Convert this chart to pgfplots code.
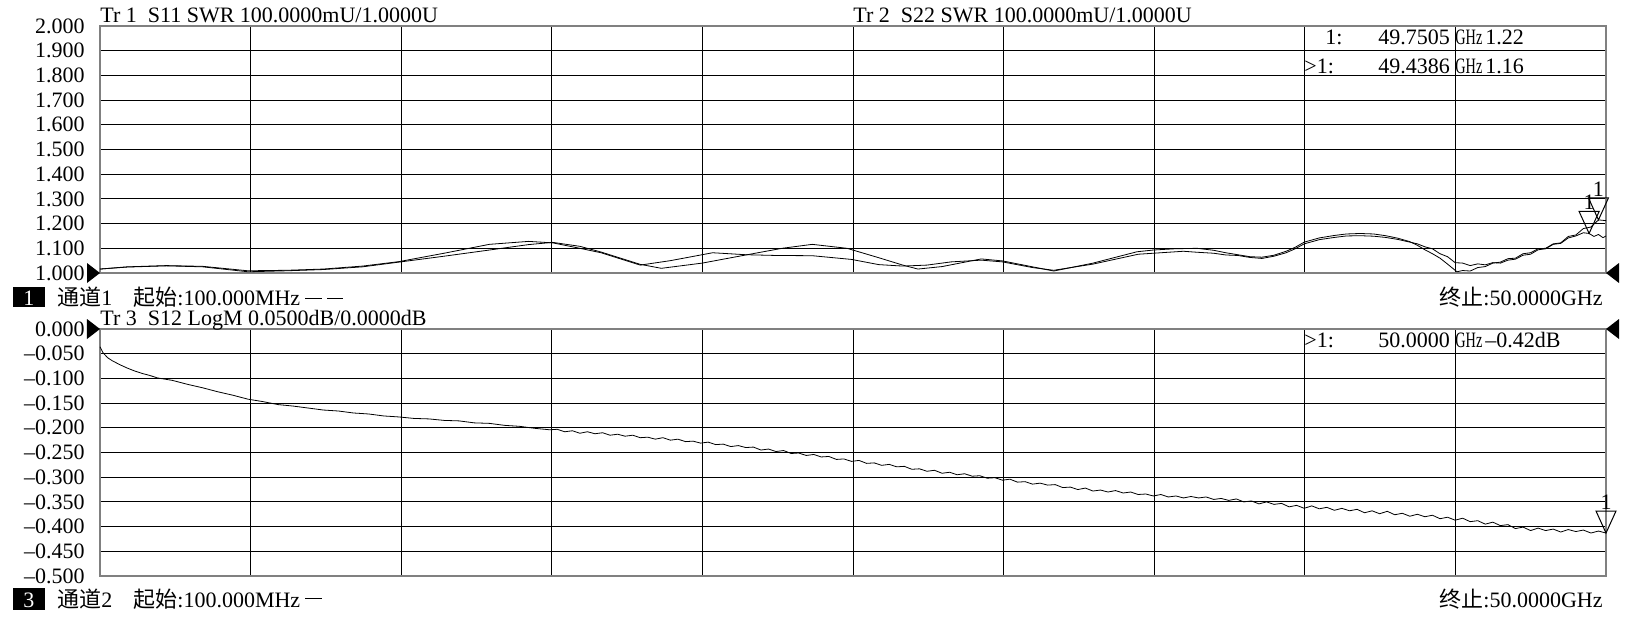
\documentclass[border=0pt]{standalone}
\usepackage{pgfplots}
\pgfplotsset{compat=1.18}
\usepackage{graphicx}
\usepackage{fontspec}
\setmainfont{Liberation Serif}
\newfontfamily\cjk{Noto Sans CJK SC}

% open marker triangle, tip at the data point
\pgfdeclareplotmark{mkdown}{%
  \pgfpathmoveto{\pgfqpoint{0pt}{0pt}}%
  \pgfpathlineto{\pgfqpoint{-5pt}{11pt}}%
  \pgfpathlineto{\pgfqpoint{5pt}{11pt}}%
  \pgfpathclose\pgfusepathqstroke}
% reference level arrows
\pgfdeclareplotmark{refR}{%
  \pgfpathmoveto{\pgfqpoint{0pt}{0pt}}%
  \pgfpathlineto{\pgfqpoint{-6.5pt}{5pt}}%
  \pgfpathlineto{\pgfqpoint{-6.5pt}{-5pt}}%
  \pgfpathclose\pgfusepathqfill}
\pgfdeclareplotmark{refL}{%
  \pgfpathmoveto{\pgfqpoint{0pt}{0pt}}%
  \pgfpathlineto{\pgfqpoint{6.5pt}{5pt}}%
  \pgfpathlineto{\pgfqpoint{6.5pt}{-5pt}}%
  \pgfpathclose\pgfusepathqfill}

\pgfplotsset{vna/.style={
  anchor=south west, scale only axis, width=753pt, height=123.5pt,
  xmin=0.1, xmax=50,
  xtick={0.1,5.09,10.08,15.07,20.06,25.05,30.04,35.03,40.02,45.01,50},
  xticklabels={},
  grid=major, major grid style={black, line width=0.5pt},
  axis line style={gray, line width=1pt},
  major tick length=0pt,
  yticklabel style={font=\fontsize{11}{13}\selectfont, anchor=east, inner sep=0pt, xshift=-7.5pt},
  clip=false,
  cycle list={{black, no markers, line width=0.55pt}},
}}
\tikzset{txt/.style={font=\fontsize{11}{13}\selectfont, inner sep=0pt, anchor=base west}}
\newcommand{\ghz}{\scalebox{0.65}[1]{GHz}}

\begin{document}
\begin{tikzpicture}
\path[use as bounding box] (0pt,0pt) rectangle (814.5pt,311.5pt);

% ---------------- channel 1: S11 / S22 SWR
\begin{axis}[vna, at={(50pt,175pt)}, ymin=1, ymax=2,
  ytick={1.0,1.1,1.2,1.3,1.4,1.5,1.6,1.7,1.8,1.9,2.0},
  yticklabels={1.000,1.100,1.200,1.300,1.400,1.500,1.600,1.700,1.800,1.900,2.000}]
\addplot coordinates {
(0.1,1.016)(1.0,1.025)(2.3,1.030)(3.5,1.027)(5.0,1.009)(6.3,1.011)(7.5,1.016)
(8.8,1.028)(10.0,1.046)(11.5,1.080)(13.0,1.116)(14.3,1.128)(15.1,1.122)(16.0,1.100)
(16.7,1.082)(18.0,1.032)(19.0,1.050)(20.4,1.082)(21.5,1.074)(22.5,1.071)(23.7,1.070)
(25.0,1.055)(25.9,1.034)(26.7,1.028)(27.5,1.032)(28.3,1.045)(29.3,1.052)(30.0,1.045)
(31.0,1.022)(31.7,1.011)(33.0,1.036)(34.5,1.076)(35.5,1.084)(36.0,1.088)(36.45,1.084)
(37.0,1.080)(37.4,1.073)(37.8,1.071)(38.2,1.063)(38.6,1.059)(39.0,1.068)(39.4,1.082)
(39.7,1.098)(40.0,1.118)(40.5,1.135)(41.0,1.144)(41.4,1.150)(41.85,1.151)(42.3,1.149)
(42.7,1.144)(43.1,1.136)(43.5,1.125)(43.75,1.118)(44.0,1.106)(44.25,1.098)(44.5,1.078)
(44.75,1.066)(45.0,1.042)(45.25,1.040)(45.5,1.030)(45.75,1.037)(46.0,1.033)(46.25,1.042)
(46.5,1.040)(46.75,1.052)(47.0,1.056)(47.25,1.072)(47.5,1.076)(47.75,1.094)(48.0,1.098)
(48.25,1.116)(48.5,1.120)(48.75,1.142)(49.0,1.150)(49.25,1.163)(49.44,1.160)(49.6,1.148)
(49.75,1.156)(49.9,1.143)(50,1.150)};
\addplot coordinates {
(0.1,1.016)(1.0,1.024)(2.3,1.029)(3.5,1.025)(5.0,1.005)(6.3,1.009)(7.5,1.014)
(8.8,1.025)(10.0,1.044)(11.5,1.068)(13.0,1.093)(14.3,1.115)(15.1,1.124)(16.0,1.108)
(16.7,1.085)(18.0,1.035)(18.7,1.019)(20.05,1.040)(21.5,1.073)(22.7,1.100)(23.7,1.116)
(24.85,1.100)(25.9,1.062)(26.7,1.032)(27.2,1.016)(28.0,1.026)(29.3,1.057)(30.0,1.049)
(31.0,1.025)(31.7,1.008)(33.0,1.040)(34.46,1.086)(35.0,1.093)(35.7,1.098)(36.45,1.100)
(37.0,1.092)(37.4,1.082)(37.8,1.074)(38.2,1.066)(38.6,1.064)(39.0,1.072)(39.4,1.088)
(39.7,1.104)(40.0,1.125)(40.5,1.142)(41.0,1.152)(41.4,1.158)(41.85,1.160)(42.3,1.158)
(42.7,1.151)(43.1,1.141)(43.5,1.127)(43.75,1.112)(44.0,1.094)(44.25,1.078)(44.5,1.060)
(44.75,1.036)(45.06,1.005)(45.25,1.010)(45.5,1.008)(45.75,1.022)(46.0,1.026)(46.25,1.040)
(46.5,1.044)(46.75,1.058)(47.0,1.060)(47.25,1.078)(47.5,1.082)(47.75,1.098)(48.0,1.100)
(48.25,1.118)(48.5,1.122)(48.75,1.148)(49.0,1.154)(49.25,1.180)(49.5,1.186)(49.75,1.215)
(50,1.212)};
% markers
\addplot[only marks, mark=mkdown, line width=0.5pt, nodes near coords={1},
  every node near coord/.style={font=\fontsize{11}{13}\selectfont, anchor=south, inner sep=0pt, yshift=11.5pt}]
  coordinates {(49.75,1.215)(49.44,1.160)};
% reference level arrows
\addplot[only marks, mark=refR] coordinates {(0.1,1)};
\addplot[only marks, mark=refL] coordinates {(50,1)};
\end{axis}

% ---------------- channel 2: S12 LogM
\begin{axis}[vna, at={(50pt,23.5pt)}, ymin=-0.5, ymax=0,
  ytick={-0.5,-0.45,-0.4,-0.35,-0.3,-0.25,-0.2,-0.15,-0.1,-0.05,0},
  yticklabels={–0.500,–0.450,–0.400,–0.350,–0.300,–0.250,–0.200,–0.150,–0.100,–0.050,0.000}]
\addplot coordinates {
(0.1,-0.036)(0.2,-0.048)(0.35,-0.058)(0.5,-0.064)(0.75,-0.072)(1.0,-0.079)(1.25,-0.085)
(1.5,-0.090)(1.75,-0.094)(2.0,-0.099)(2.5,-0.104)(3.0,-0.112)(3.5,-0.119)(4.0,-0.127)
(4.5,-0.134)(5.0,-0.142)(5.5,-0.147)(6.0,-0.153)(6.5,-0.156)(7.0,-0.160)(7.5,-0.164)
(8.0,-0.166)(8.5,-0.170)(9.0,-0.172)(9.5,-0.176)(10.0,-0.178)(10.5,-0.181)(11.0,-0.182)
(11.5,-0.185)(12.0,-0.186)(12.5,-0.190)(13.0,-0.191)(13.5,-0.195)(14.0,-0.197)(14.5,-0.201)
(15.00,-0.204)(15.25,-0.203)(15.50,-0.208)(15.75,-0.206)(16.00,-0.211)(16.25,-0.208)
(16.50,-0.212)(16.75,-0.210)(17.00,-0.215)(17.25,-0.213)(17.50,-0.217)(17.75,-0.215)
(18.00,-0.220)(18.25,-0.219)(18.50,-0.223)(18.75,-0.220)(19.00,-0.225)(19.25,-0.223)
(19.50,-0.228)(19.75,-0.227)(20.00,-0.231)(20.25,-0.229)(20.50,-0.234)(20.75,-0.233)
(21.00,-0.238)(21.25,-0.236)(21.50,-0.240)(21.75,-0.239)(22.00,-0.245)(22.25,-0.243)
(22.50,-0.248)(22.75,-0.246)(23.00,-0.252)(23.25,-0.251)(23.50,-0.256)(23.75,-0.254)
(24.00,-0.259)(24.25,-0.258)(24.50,-0.264)(24.75,-0.263)(25.00,-0.268)(25.25,-0.266)
(25.50,-0.272)(25.75,-0.271)(26.00,-0.276)(26.25,-0.274)(26.50,-0.279)(26.75,-0.278)
(27.00,-0.284)(27.25,-0.283)(27.50,-0.288)(27.75,-0.286)(28.00,-0.292)(28.25,-0.290)
(28.50,-0.295)(28.75,-0.293)(29.00,-0.298)(29.25,-0.297)(29.50,-0.302)(29.75,-0.301)
(30.00,-0.306)(30.25,-0.304)(30.50,-0.310)(30.75,-0.309)(31.00,-0.314)(31.25,-0.312)
(31.50,-0.316)(31.75,-0.315)(32.00,-0.321)(32.25,-0.320)(32.50,-0.325)(32.75,-0.322)
(33.00,-0.328)(33.25,-0.326)(33.50,-0.330)(33.75,-0.327)(34.00,-0.332)(34.25,-0.330)
(34.50,-0.335)(34.75,-0.334)(35.00,-0.338)(35.25,-0.335)(35.50,-0.340)(35.75,-0.338)
(36.00,-0.342)(36.25,-0.339)(36.50,-0.342)(36.75,-0.340)(37.00,-0.345)(37.25,-0.343)
(37.50,-0.347)(37.75,-0.344)(38.00,-0.350)(38.25,-0.348)(38.50,-0.354)(38.75,-0.350)
(39.00,-0.355)(39.25,-0.353)(39.50,-0.360)(39.75,-0.357)(40.00,-0.363)(40.25,-0.358)
(40.50,-0.364)(40.75,-0.361)(41.00,-0.367)(41.25,-0.363)(41.50,-0.368)(41.75,-0.365)
(42.00,-0.372)(42.25,-0.368)(42.50,-0.374)(42.75,-0.369)(43.00,-0.376)(43.25,-0.373)
(43.50,-0.379)(43.75,-0.375)(44.00,-0.380)(44.25,-0.377)(44.50,-0.384)(44.75,-0.381)
(45.00,-0.387)(45.25,-0.383)(45.50,-0.390)(45.75,-0.388)(46.00,-0.395)(46.25,-0.391)
(46.50,-0.398)(46.75,-0.396)(47.00,-0.404)(47.25,-0.401)(47.50,-0.408)(47.75,-0.403)
(48.00,-0.408)(48.25,-0.405)(48.50,-0.411)(48.75,-0.406)(49.00,-0.410)(49.25,-0.407)
(49.50,-0.413)(49.75,-0.409)(50.00,-0.413)};
\addplot[only marks, mark=mkdown, line width=0.5pt, nodes near coords={1},
  every node near coord/.style={font=\fontsize{11}{13}\selectfont, anchor=south, inner sep=0pt, yshift=11.5pt}]
  coordinates {(50,-0.413)};
\addplot[only marks, mark=refR] coordinates {(0.1,0)};
\addplot[only marks, mark=refL] coordinates {(50,0)};
\end{axis}

% ---------------- annotations
\node[txt] at (50pt,300pt) {Tr~1~~S11 SWR 100.0000mU/1.0000U};
\node[txt] at (426.5pt,300pt) {Tr~2~~S22 SWR 100.0000mU/1.0000U};
\node[txt] at (662.5pt,289pt) {1:};
\node[txt] at (689pt,289pt) {49.7505};
\node[txt] at (727.5pt,289pt) {\ghz};
\node[txt] at (742.5pt,289pt) {1.22};
\node[txt] at (652pt,275pt) {>1:};
\node[txt] at (689pt,275pt) {49.4386};
\node[txt] at (727.5pt,275pt) {\ghz};
\node[txt] at (742.5pt,275pt) {1.16};

\fill[black] (6.5pt,158pt) rectangle (22.5pt,168pt);
\node[txt, anchor=base, text=white] at (14.5pt,159pt) {1};
\node[txt] at (28.5pt,159pt) {{\cjk 通道}1};
\node[txt] at (66.5pt,159pt) {{\cjk 起始}:100.000MHz};
\draw[line width=0.5pt] (152.5pt,162.5pt) -- (161pt,162.5pt) (163.5pt,162.5pt) -- (171.5pt,162.5pt);
\node[txt, anchor=base east] at (801.5pt,159pt) {{\cjk 终止}:50.0000GHz};

\node[txt] at (50pt,149pt) {Tr~3~~S12 LogM 0.0500dB/0.0000dB};
\node[txt] at (652pt,138pt) {>1:};
\node[txt] at (689pt,138pt) {50.0000};
\node[txt] at (727.5pt,138pt) {\ghz};
\node[txt] at (742.5pt,138pt) {–0.42dB};

\fill[black] (6.5pt,6.5pt) rectangle (22.5pt,17.5pt);
\node[txt, anchor=base, text=white] at (14.5pt,8pt) {3};
\node[txt] at (28.5pt,8pt) {{\cjk 通道}2};
\node[txt] at (66.5pt,8pt) {{\cjk 起始}:100.000MHz};
\draw[line width=0.5pt] (152.5pt,12.5pt) -- (161pt,12.5pt);
\node[txt, anchor=base east] at (801.5pt,8pt) {{\cjk 终止}:50.0000GHz};
\end{tikzpicture}
\end{document}
